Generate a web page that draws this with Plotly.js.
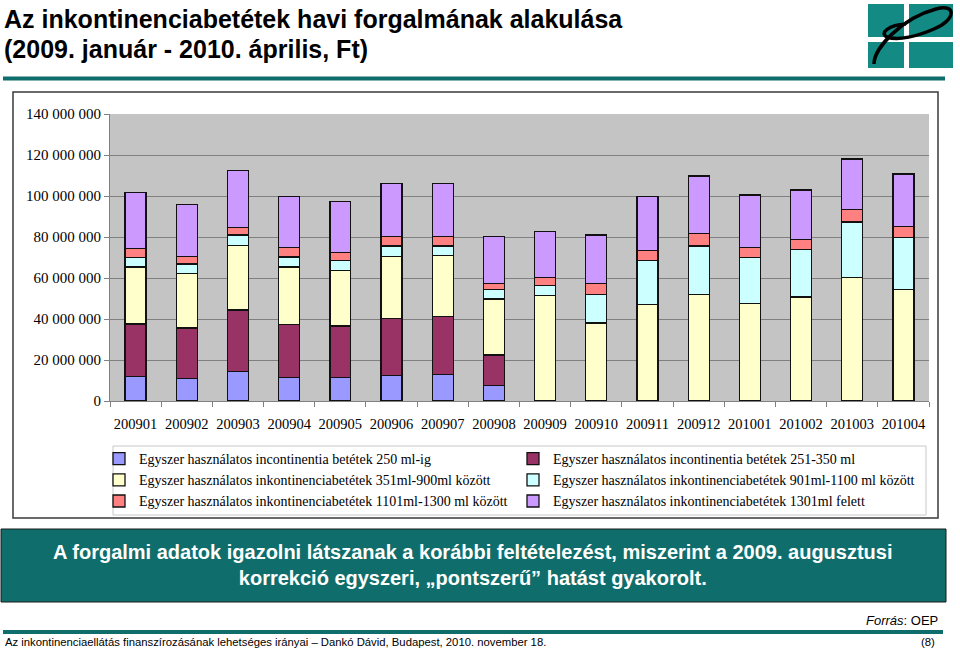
<!DOCTYPE html>
<html>
<head>
<meta charset="utf-8">
<script src="https://cdn.plot.ly/plotly-3.0.1.min.js"></script>
<style>
html,body{margin:0;padding:0;background:#fff;}
#chart{width:960px;height:650px;}
</style>
</head>
<body>
<div id="chart"></div>
<script>
// ---- data ----
const months = ["200901","200902","200903","200904","200905","200906","200907","200908",
                "200909","200910","200911","200912","201001","201002","201003","201004"];

const seriesNames = [
  "Egyszer használatos incontinentia betétek 250 ml-ig",
  "Egyszer használatos incontinentia betétek 251-350 ml",
  "Egyszer használatos inkontinenciabetétek 351ml-900ml között",
  "Egyszer használatos inkontinenciabetétek 901ml-1100 ml között",
  "Egyszer használatos inkontinenciabetétek 1101ml-1300 ml között",
  "Egyszer használatos inkontinenciabetétek 1301ml felett"
];

const upTo250 = [12100000,10900000,14400000,11400000,11400000,12600000,13100000,7400000,
                 null,null,null,null,null,null,null,null];
const from251to350 = [25500000,24700000,30000000,25900000,25200000,27700000,28200000,15100000,
                      null,null,null,null,null,null,null,null];
const from351to900 = [27700000,26500000,31400000,28000000,27100000,30300000,29800000,27200000,
                      51300000,38100000,47100000,51800000,47500000,50800000,60300000,54400000];
const from901to1100 = [4700000,4700000,5200000,4900000,4800000,5000000,4500000,4600000,
                       5100000,13700000,21400000,23800000,22400000,23100000,27000000,25400000];
const from1101to1300 = [4400000,3800000,3800000,4600000,3900000,4500000,4600000,2900000,
                        4000000,5400000,5000000,6100000,4900000,5000000,6200000,5300000];
const over1301 = [27400000,25300000,27600000,25000000,24800000,26100000,25800000,22900000,
                  22300000,23800000,26300000,28100000,25700000,24000000,24500000,25700000];

const seriesValues = [upTo250, from251to350, from351to900, from901to1100, from1101to1300, over1301];
const seriesColors = ["#9999FF","#993366","#FFFFCC","#CCFFFF","#FF8080","#CC99FF"];

const yTickVals = [0,20000000,40000000,60000000,80000000,100000000,120000000,140000000];

const titleLine1 = "Az inkontinenciabetétek havi forgalmának alakulása";
const titleLine2 = "(2009. január - 2010. április, Ft)";
const bannerText = "A forgalmi adatok igazolni látszanak a korábbi feltételezést, miszerint a 2009. augusztusi<br>korrekció egyszeri, „pontszerű” hatást gyakorolt.";
const sourceText = "<i>Forrás</i>: OEP";
const footerText = "Az inkontinenciaellátás finanszírozásának lehetséges irányai – Dankó Dávid, Budapest, 2010. november 18.";
const pageNo = "(8)";

// ---- geometry helpers (pixel -> paper) ----
const L = 110, R = 929, T = 114, B = 401;
const px = x => (x - L) / (R - L);
const py = y => (B - y) / (B - T);

const traces = seriesNames.map((name, i) => ({
  type: "bar",
  name: name,
  x: months,
  y: seriesValues[i],
  marker: { color: seriesColors[i], line: { color: "#111111", width: 1.3 } },
  hoverinfo: "x+y+name"
}));

const teal = "#0F6E6B";

function rect(x0, y0, x1, y1, fill, lineColor, lineWidth, layer) {
  return {
    type: "rect", xref: "paper", yref: "paper",
    x0: px(x0), x1: px(x1), y0: py(y0), y1: py(y1),
    fillcolor: fill, line: { color: lineColor || "rgba(0,0,0,0)", width: lineWidth || 0 },
    layer: layer || "above"
  };
}

function pathPx(d) {
  return d.replace(/(-?\d+(\.\d+)?)\s+(-?\d+(\.\d+)?)/g, (m, a, _b, c) => px(+a).toFixed(5) + "," + py(+c).toFixed(5));
}

const logoTeal = "#138A84";
const shapes = [
  rect(13, 92, 938, 518, "rgba(0,0,0,0)", "#3a3a3a", 1.5, "below"),
  // legend box
  rect(113, 446, 926, 515, "#ffffff", "#C8C8C8", 1, "below"),
  rect(3, 76.5, 945, 80.5, teal, null, 0),
  rect(868, 4, 904, 37, logoTeal, null, 0),
  rect(909, 4, 953, 37, logoTeal, null, 0),
  rect(868, 42, 904, 68, logoTeal, null, 0),
  rect(909, 42, 953, 68, logoTeal, null, 0),
  { type: "path", xref: "paper", yref: "paper",
    path: pathPx("M 874 64 C 874 48 902 18 936 9 C 957 3 956 20 934 29 C 918 36 898 41 887 37 C 879 33 889 25 906 24"),
    line: { color: "#000000", width: 3.5 }, fillcolor: "rgba(0,0,0,0)" },
  rect(1, 529, 946, 602, teal, "#1a1a1a", 1),
  rect(3, 630, 943, 634, teal, null, 0)
];

const annotations = [
  { text: "<b>" + titleLine1 + "</b>", xref: "paper", yref: "paper", x: px(2), y: py(19), xanchor: "left", yanchor: "middle",
    showarrow: false, font: { family: "Liberation Sans, Arial", size: 25, color: "#000" } },
  { text: "<b>" + titleLine2 + "</b>", xref: "paper", yref: "paper", x: px(2), y: py(49), xanchor: "left", yanchor: "middle",
    showarrow: false, font: { family: "Liberation Sans, Arial", size: 25, color: "#000" } },
  { text: "<b>" + bannerText + "</b>", xref: "paper", yref: "paper", x: px(473), y: py(565), xanchor: "center", yanchor: "middle",
    showarrow: false, align: "center",
    font: { family: "Liberation Sans, Arial", size: 20, color: "#ffffff" } },
  { text: sourceText, xref: "paper", yref: "paper", x: px(940), y: py(620), xanchor: "right", yanchor: "middle",
    showarrow: false, font: { family: "Liberation Sans, Arial", size: 13, color: "#000" } },
  { text: footerText, xref: "paper", yref: "paper", x: px(3), y: py(642), xanchor: "left", yanchor: "middle",
    showarrow: false, font: { family: "Liberation Sans, Arial", size: 11.3, color: "#000" } },
  { text: pageNo, xref: "paper", yref: "paper", x: px(937), y: py(642), xanchor: "right", yanchor: "middle",
    showarrow: false, font: { family: "Liberation Sans, Arial", size: 11.3, color: "#000" } }
];

const layout = {
  width: 960, height: 650,
  margin: { l: L, r: 960 - R, t: T, b: 650 - B, pad: 0 },
  paper_bgcolor: "#ffffff",
  plot_bgcolor: "#C4C4C4",
  barmode: "stack",
  bargap: 0.59,
  separators: ", ",
  showlegend: true,
  font: { family: "Liberation Serif, Times New Roman, serif", size: 14, color: "#000" },
  xaxis: {
    type: "category",
    showline: true, linecolor: "#808080", linewidth: 1,
    ticks: "outside", tickson: "boundaries", ticklen: 5, tickcolor: "#808080",
    ticklabelstandoff: 10,
    tickangle: 0,
    tickfont: { family: "Liberation Serif, Times New Roman, serif", size: 14.5, color: "#000" },
    showgrid: false, fixedrange: true
  },
  yaxis: {
    range: [0, 140000000],
    tickvals: yTickVals,
    tickformat: ",d",
    showline: true, linecolor: "#808080", linewidth: 1,
    ticks: "outside", ticklen: 5, tickcolor: "#808080",
    gridcolor: "#808080", gridwidth: 1,
    zeroline: false,
    tickfont: { family: "Liberation Serif, Times New Roman, serif", size: 15, color: "#000" },
    fixedrange: true
  },
  legend: {
    orientation: "h",
    traceorder: "normal",
    x: px(99), y: py(443), xanchor: "left", yanchor: "top",
    entrywidth: 369, entrywidthmode: "pixels",
    itemwidth: 30,
    bgcolor: "rgba(0,0,0,0)", borderwidth: 0,
    font: { family: "Liberation Serif, Times New Roman, serif", size: 14, color: "#000" },
    itemclick: false, itemdoubleclick: false
  },
  shapes: shapes,
  annotations: annotations
};

Plotly.newPlot("chart", traces, layout, { displayModeBar: false, staticPlot: true });
</script>
</body>
</html>
